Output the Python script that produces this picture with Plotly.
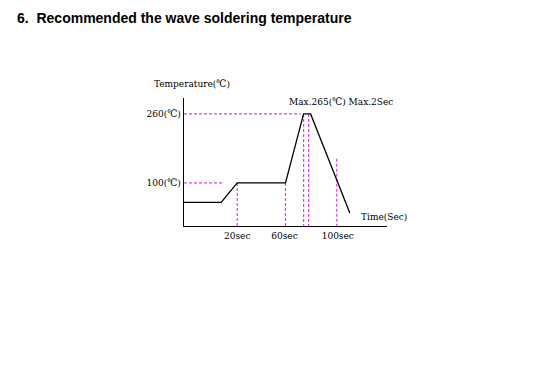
import plotly.graph_objects as go

# Profile (schematic time units, temperature in degC)
time_pts = [0, 37, 53, 101, 119, 126, 165]
temp_pts = [55, 55, 100, 100, 260, 260, 30]

# Guide levels / markers
temp_levels = [100, 260]
temp_labels = ["100(℃)", "260(℃)"]
time_ticks = [53, 100, 153]
time_labels = ["20sec", "60sec", "100sec"]
peak_marks = [119, 124]
cool_mark = 152
cool_mark_top = 156

title_text = "6.\u00a0 Recommended the wave soldering temperature"
y_title = "Temperature(℃)"
x_title = "Time(Sec)"
peak_note = "Max.265(℃) Max.2Sec"

PINK = "#E040E0"
FONT = "DejaVu Serif Condensed, Liberation Serif, serif"
FS = 10

fig = go.Figure()

def guide(xs, ys):
    fig.add_trace(go.Scatter(x=xs, y=ys, mode="lines",
                             line=dict(color=PINK, width=1.2, dash="3px,2px"),
                             hoverinfo="skip", showlegend=False))

# horizontal guides
guide([0, 38], [temp_levels[0], temp_levels[0]])
guide([0, 116], [temp_levels[1], temp_levels[1]])
# vertical guides
guide([time_ticks[0], time_ticks[0]], [temp_levels[0], 0])
guide([time_pts[3], time_pts[3]], [temp_levels[0], 0])
for pm in peak_marks:
    guide([pm, pm], [temp_levels[1], 0])
guide([cool_mark, cool_mark], [cool_mark_top, 0])

fig.add_trace(go.Scatter(x=time_pts, y=temp_pts, mode="lines",
                         line=dict(color="black", width=1.3),
                         hoverinfo="skip", showlegend=False))

fig.update_layout(
    width=545, height=381,
    margin=dict(l=176, r=166, t=90, b=163),
    paper_bgcolor="white", plot_bgcolor="white",
    title=dict(text="<b>" + title_text + "</b>", xref="container", yref="container",
               x=9/545, y=1 - 10/381, xanchor="left", yanchor="middle",
               font=dict(family="Liberation Sans, Arial", size=14, color="black")),
    xaxis=dict(range=[0, 202], showgrid=False, zeroline=False, showline=True,
               linecolor="black", linewidth=1.3, ticks="",
               tickvals=time_ticks, ticktext=time_labels,
               tickfont=dict(family=FONT, size=FS, color="black")),
    yaxis=dict(range=[0, 297], showgrid=False, zeroline=False, showline=True,
               linecolor="black", linewidth=1.3, ticks="",
               tickvals=temp_levels, ticktext=temp_labels,
               tickfont=dict(family=FONT, size=FS, color="black")),
    annotations=[
        dict(x=0.04, y=1.11, xref="paper", yref="paper", text=y_title, showarrow=False,
             font=dict(family=FONT, size=FS, color="black"), xanchor="center",
             yanchor="middle"),
        dict(x=156, y=288, xref="x", yref="y", text=peak_note, showarrow=False,
             font=dict(family=FONT, size=FS, color="black"), xanchor="center"),
        dict(x=199, y=23, xref="x", yref="y", text=x_title, showarrow=False,
             font=dict(family=FONT, size=FS, color="black"), xanchor="center"),
    ],
)

fig.write_html("out.html")
